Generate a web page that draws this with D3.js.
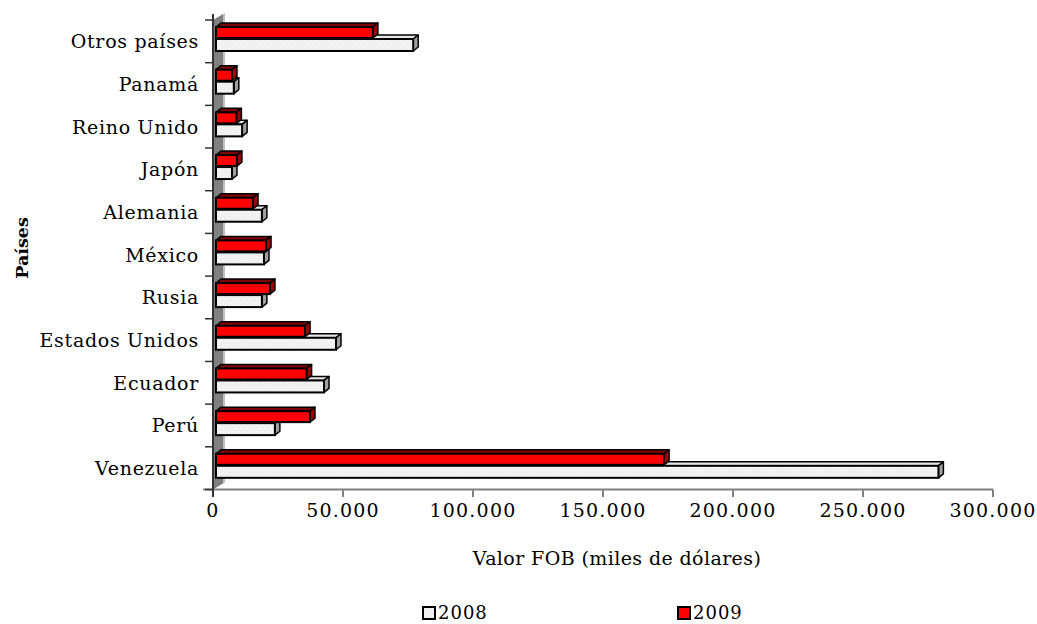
<!DOCTYPE html>
<html><head><meta charset="utf-8">
<script src="https://cdn.jsdelivr.net/npm/d3@7/dist/d3.min.js"></script>
<style>body{margin:0;background:#fff}svg{display:block}</style>
</head><body>
<svg id="c" width="1037" height="624"></svg>
<script>
const categories = ["Venezuela","Perú","Ecuador","Estados Unidos","Rusia","México","Alemania","Japón","Reino Unido","Panamá","Otros países"];
const values2008 = [279000, 23800, 42700, 47300, 18800, 19600, 18800, 7300, 11200, 8000, 77000];
const values2009 = [173500, 37300, 36000, 35400, 21900, 20400, 15400, 9200, 9000, 7300, 61500];
const xTicks = [0, 50000, 100000, 150000, 200000, 250000, 300000];
const seriesNames = ["2008", "2009"];

const svg = d3.select("#c");
const font = "'DejaVu Serif', serif";
const x = d3.scaleLinear().domain([0, 300000]).range([213, 993]);
const y = d3.scaleBand().domain(categories).range([489.5, 20]);
const sub = d3.scaleBand().domain(["2009","2008"]).range([7, 31]);
const dx = 5, dy = 4;

const defs = svg.append("defs");
const pat = defs.append("pattern").attr("id","dots").attr("width",6).attr("height",6).attr("patternUnits","userSpaceOnUse");
pat.append("rect").attr("width",6).attr("height",6).attr("fill","#f0f0f0");
pat.append("rect").attr("x",1).attr("y",2).attr("width",1).attr("height",1).attr("fill","#ffffff");
pat.append("rect").attr("x",4).attr("y",5).attr("width",1).attr("height",1).attr("fill","#ffffff");

// side wall
const wallTop = y.range()[1], wallBot = y.range()[0];
svg.append("path")
  .attr("d", `M213,${wallTop} L${213+10},${wallTop-6} L${213+10},${wallBot-6} L213,${wallBot} Z`)
  .attr("fill","#808080");
svg.append("path")
  .attr("d", `M${213+10},${wallTop-6} L${213+12},${wallTop-7} L${213+12},${wallBot-7} L${213+10},${wallBot-6} Z`)
  .attr("fill","#c0c0c0");

// x axis
svg.append("line").attr("x1",203).attr("x2",993).attr("y1",489.5).attr("y2",489.5).attr("stroke","#808080").attr("stroke-width",2);
svg.selectAll(".xt").data(xTicks).join("line")
  .attr("x1",d=>x(d)).attr("x2",d=>x(d)).attr("y1",489.5).attr("y2",497).attr("stroke","#808080").attr("stroke-width",2);
svg.selectAll(".xl").data(xTicks).join("text")
  .attr("x",d=>x(d)).attr("y",517).attr("text-anchor","middle")
  .attr("font-family",font).attr("font-size",19).attr("letter-spacing",1.2).attr("fill","#000")
  .text(d=>d3.format(",")(d).replace(/,/g,"."));

// y axis
svg.append("line").attr("x1",213).attr("x2",213).attr("y1",14).attr("y2",497).attr("stroke","#333").attr("stroke-width",2);
const bounds = categories.map(c=>y(c)+y.bandwidth()).concat([y(categories[categories.length-1])]);
svg.selectAll(".yt").data(bounds).join("line")
  .attr("x1",205).attr("x2",213).attr("y1",d=>d).attr("y2",d=>d).attr("stroke","#333").attr("stroke-width",1.5);
svg.selectAll(".yl").data(categories).join("text")
  .attr("x",199).attr("y",d=>y(d)+y.bandwidth()/2+7).attr("text-anchor","end")
  .attr("font-family",font).attr("font-size",19).attr("letter-spacing",0.7).attr("fill","#000")
  .text(d=>d);

// bars
function bar3d(g, x0, x1, y0, h, front, top, side) {
  g.append("path").attr("d",`M${x0},${y0} L${x0+dx},${y0-dy} L${x1+dx},${y0-dy} L${x1},${y0} Z`)
    .attr("fill",top).attr("stroke","#000").attr("stroke-width",1.5).attr("stroke-linejoin","round");
  g.append("path").attr("d",`M${x1},${y0} L${x1+dx},${y0-dy} L${x1+dx},${y0+h-dy} L${x1},${y0+h} Z`)
    .attr("fill",side).attr("stroke","#000").attr("stroke-width",1.5).attr("stroke-linejoin","round");
  g.append("rect").attr("x",x0).attr("y",y0).attr("width",x1-x0).attr("height",h)
    .attr("fill",front).attr("stroke","#000").attr("stroke-width",2);
}
const gb = svg.append("g");
categories.forEach((c,i)=>{
  const g = gb.append("g");
  bar3d(g, x(0)+3, x(values2008[i]), y(c)+sub("2008"), sub.bandwidth(), "url(#dots)", "#e6e6e6", "#a0a0a0");
  bar3d(g, x(0)+3, x(values2009[i]), y(c)+sub("2009"), sub.bandwidth()-1, "#ff0000", "#800000", "#a00000");
});

// titles
svg.append("text").attr("transform","translate(28,248) rotate(-90)").attr("text-anchor","middle")
  .attr("font-family",font).attr("font-size",17.5).attr("font-weight","bold").text("Países");
svg.append("text").attr("x",617).attr("y",565).attr("text-anchor","middle")
  .attr("font-family",font).attr("font-size",19).attr("letter-spacing",0.4).text("Valor FOB (miles de dólares)");

// legend
const leg = [{n:seriesNames[0], x:422, fill:"#f0f0f0"},{n:seriesNames[1], x:677, fill:"#ff0000"}];
leg.forEach(l=>{
  svg.append("rect").attr("x",l.x+1).attr("y",607).attr("width",12).attr("height",12).attr("fill",l.fill).attr("stroke","#000").attr("stroke-width",2);
  svg.append("text").attr("x",l.x+16).attr("y",619).attr("font-family",font).attr("font-size",18).attr("letter-spacing",1).text(l.n);
});
</script>
</body></html>
